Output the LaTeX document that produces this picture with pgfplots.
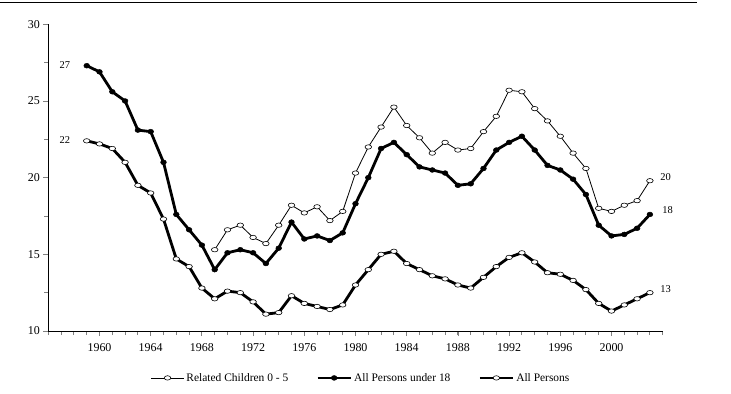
\documentclass[border=0pt]{standalone}
\usepackage{fontspec}
\setmainfont{Liberation Serif}
\usepackage{pgfplots}
\pgfplotsset{compat=1.18}
\begin{document}
\begin{tikzpicture}
\useasboundingbox (0,0) rectangle (731bp,394bp);
\draw[line width=1.2bp] (0,391.5bp) -- (697bp,391.5bp);
\begin{axis}[
  at={(48.3bp,63bp)}, anchor=south west,
  scale only axis, width=614.4bp, height=306.7bp,
  xmin=1956, xmax=2004, ymin=10, ymax=30,
  axis x line*=bottom, axis y line*=left,
  axis line style={line width=1bp},
  tick align=outside,
  xtick={1960,1964,...,2000},
  minor xtick={1956,1957,...,2004},
  ytick={10,15,...,30},
  minor ytick={12.5,17.5,22.5,27.5},
  xticklabel style={/pgf/number format/1000 sep={}, font=\fontsize{12}{14}\selectfont, yshift=-4bp},
  yticklabel style={font=\fontsize{12}{14}\selectfont},
  /pgf/number format/assume math mode=true,
  major tick length=5bp, minor tick length=4bp,
  xtick style={line width=0.8bp},
  ytick style={line width=0.8bp},
  legend style={at={(0.509,-0.153)}, anchor=center, draw=none, fill=none,
    legend columns=3, font=\fontsize{11.5}{13}\selectfont,
    /tikz/every even column/.append style={column sep=26bp}},
  legend cell align=left,
  legend image code/.code={\draw[mark repeat=2,mark phase=2] plot coordinates {(0bp,0bp) (16.5bp,0bp) (33bp,0bp)};},
  clip=false,
]
\addplot[black, line width=0.8bp, mark=*, mark size=2.2bp,
  mark options={solid, fill=white, draw=black, line width=0.6bp, xscale=1.5}]
  coordinates {
  (1969,15.3) (1970,16.6) (1971,16.9) (1972,16.1) (1973,15.7) (1974,16.9)
  (1975,18.2) (1976,17.7) (1977,18.1) (1978,17.2) (1979,17.8) (1980,20.3)
  (1981,22.0) (1982,23.3) (1983,24.6) (1984,23.4) (1985,22.6) (1986,21.6)
  (1987,22.3) (1988,21.8) (1989,21.9) (1990,23.0) (1991,24.0) (1992,25.7)
  (1993,25.6) (1994,24.5) (1995,23.7) (1996,22.7) (1997,21.6) (1998,20.6)
  (1999,18.0) (2000,17.8) (2001,18.2) (2002,18.5) (2003,19.8)};
\addlegendentry{Related Children 0 - 5}
\addplot[black, line width=2.8bp, mark=*, mark size=2.4bp,
  mark options={solid, fill=black, draw=black, line width=0.5bp, xscale=1.2}]
  coordinates {
  (1959,27.3) (1960,26.9) (1961,25.6) (1962,25.0) (1963,23.1) (1964,23.0)
  (1965,21.0) (1966,17.6) (1967,16.6) (1968,15.6) (1969,14.0) (1970,15.1)
  (1971,15.3) (1972,15.1) (1973,14.4) (1974,15.4) (1975,17.1) (1976,16.0)
  (1977,16.2) (1978,15.9) (1979,16.4) (1980,18.3) (1981,20.0) (1982,21.9)
  (1983,22.3) (1984,21.5) (1985,20.7) (1986,20.5) (1987,20.3) (1988,19.5)
  (1989,19.6) (1990,20.6) (1991,21.8) (1992,22.3) (1993,22.7) (1994,21.8)
  (1995,20.8) (1996,20.5) (1997,19.9) (1998,18.9) (1999,16.9) (2000,16.2)
  (2001,16.3) (2002,16.7) (2003,17.6)};
\addlegendentry{All Persons under 18}
\addplot[black, line width=2.8bp, mark=*, mark size=2.2bp,
  mark options={solid, fill=white, draw=black, line width=0.6bp, xscale=1.5}]
  coordinates {
  (1959,22.4) (1960,22.2) (1961,21.9) (1962,21.0) (1963,19.5) (1964,19.0)
  (1965,17.3) (1966,14.7) (1967,14.2) (1968,12.8) (1969,12.1) (1970,12.6)
  (1971,12.5) (1972,11.9) (1973,11.1) (1974,11.2) (1975,12.3) (1976,11.8)
  (1977,11.6) (1978,11.4) (1979,11.7) (1980,13.0) (1981,14.0) (1982,15.0)
  (1983,15.2) (1984,14.4) (1985,14.0) (1986,13.6) (1987,13.4) (1988,13.0)
  (1989,12.8) (1990,13.5) (1991,14.2) (1992,14.8) (1993,15.1) (1994,14.5)
  (1995,13.8) (1996,13.7) (1997,13.3) (1998,12.7) (1999,11.8) (2000,11.3)
  (2001,11.7) (2002,12.1) (2003,12.5)};
\addlegendentry{All Persons}
\node[anchor=east, font=\fontsize{10.5}{12}\selectfont, xshift=-13bp] at (axis cs:1959,27.35) {27};
\node[anchor=east, font=\fontsize{10.5}{12}\selectfont, xshift=-13bp] at (axis cs:1959,22.45) {22};
\node[anchor=west, font=\fontsize{10.5}{12}\selectfont, xshift=7bp, yshift=4bp] at (axis cs:2003,19.8) {20};
\node[anchor=west, font=\fontsize{10.5}{12}\selectfont, xshift=9bp, yshift=4bp] at (axis cs:2003,17.6) {18};
\node[anchor=west, font=\fontsize{10.5}{12}\selectfont, xshift=7bp, yshift=4bp] at (axis cs:2003,12.5) {13};
\end{axis}
\end{tikzpicture}
\end{document}
